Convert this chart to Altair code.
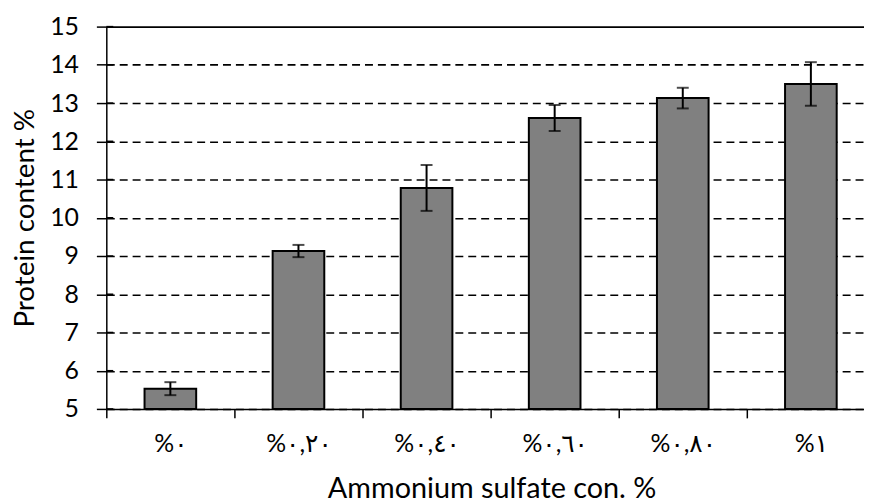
import altair as alt
import pandas as pd

categories = ["%٠", "%٠,٢٠", "%٠,٤٠", "%٠,٦٠", "%٠,٨٠", "%١"]
protein = [5.53, 9.13, 10.78, 12.61, 13.13, 13.50]
errors = [0.17, 0.16, 0.60, 0.34, 0.27, 0.57]
y_ticks = [5, 6, 7, 8, 9, 10, 11, 12, 13, 14, 15]

df = pd.DataFrame({
    "cat": categories,
    "v": protein,
    "lo": [p - e for p, e in zip(protein, errors)],
    "hi": [p + e for p, e in zip(protein, errors)],
})
ticks_df = pd.DataFrame({"t": y_ticks})

FONT = "Lato, DejaVu Sans, sans-serif"

x_scale = alt.Scale(range=[0, 774], paddingInner=0, paddingOuter=0)
y_scale = alt.Scale(domain=[5, 15], nice=False, zero=False)

x_axis = alt.Axis(
    title="Ammonium sulfate con. %",
    labelAngle=0,
    labelOverlap=False,
    tickBand="extent",
    tickSize=9,
    tickWidth=1.5,
    tickColor="black",
    domainColor="black",
    domainWidth=1.5,
    labelPadding=14,
    labelFont=FONT,
    labelFontSize=25,
    labelColor="black",
    titleFont=FONT,
    titleFontSize=29,
    titleFontWeight="normal",
    titleColor="black",
    titleX=388,
    titleY=89,
    titleBaseline="alphabetic",
    titleAlign="center",
    grid=False,
)

y_axis = alt.Axis(
    title="Protein content %",
    values=y_ticks,
    tickCount=len(y_ticks),
    labelOverlap=False,
    tickSize=10,
    tickWidth=1.5,
    tickColor="black",
    domainColor="black",
    domainWidth=1.5,
    labelPadding=18,
    labelFont=FONT,
    labelFontSize=25,
    labelColor="black",
    titleFont=FONT,
    titleFontSize=28,
    titleFontWeight="normal",
    titleColor="black",
    titleAngle=270,
    titleX=-73,
    titleY=192.5,
    titleBaseline="alphabetic",
    titleAlign="center",
    grid=True,
    gridColor="black",
    gridWidth=1.6,
    gridDash=alt.condition("datum.value == 15", alt.value([]), alt.value([8, 5])),
)

bars = alt.Chart(df).mark_bar(
    size=52, fill="#808080", stroke="black", strokeWidth=2
).encode(
    x=alt.X("cat:N", sort=categories, scale=x_scale, axis=x_axis),
    y=alt.Y("v:Q", scale=y_scale, axis=y_axis),
    y2=alt.datum(5),
)

errbars = alt.Chart(df).mark_errorbar(
    color="black",
    ticks={"size": 12, "thickness": 2, "color": "black"},
    rule={"strokeWidth": 2, "color": "black"},
).encode(
    x=alt.X("cat:N", sort=categories, scale=x_scale),
    y=alt.Y("lo:Q", scale=y_scale, title="Protein content %"),
    y2="hi:Q",
)

inner_ticks = alt.Chart(ticks_df).mark_rule(color="black", strokeWidth=1.5).encode(
    y=alt.Y("t:Q", scale=y_scale),
    x=alt.value(0),
    x2=alt.value(7),
)

chart = alt.layer(bars, errbars, inner_ticks).properties(
    width=763,
    height=385,
    autosize=alt.AutoSizeParams(type="none"),
    padding={"left": 99, "top": 17, "right": 0, "bottom": 93},
    background="white",
).configure_view(stroke=None)

chart.save("out.html", embed_options={"renderer": "svg", "actions": False})
